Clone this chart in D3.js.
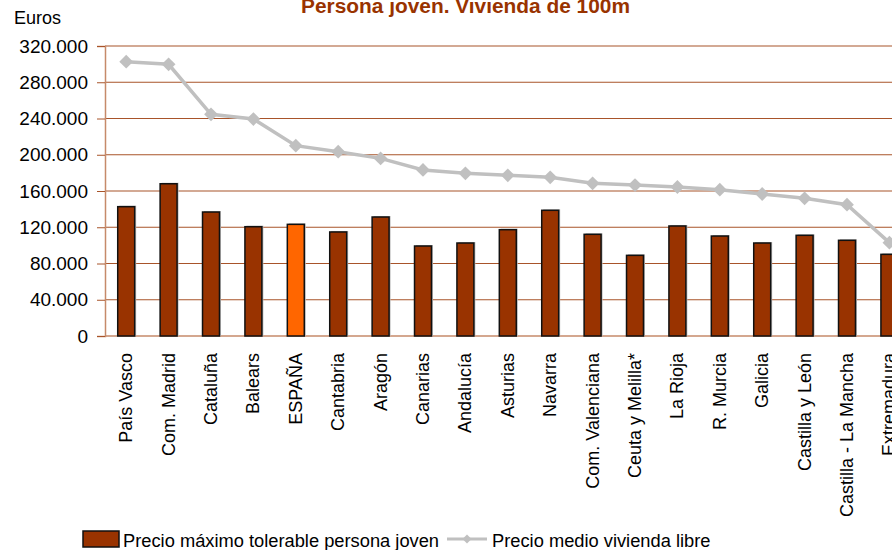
<!DOCTYPE html>
<html>
<head>
<meta charset="utf-8">
<script src="https://cdn.jsdelivr.net/npm/d3@7"></script>
<style>
  body { margin: 0; background: #fff; }
  svg { display: block; font-family: 'Liberation Sans', Arial, sans-serif; }
</style>
</head>
<body>
<div id="chart"></div>
<script>
const regions = ['País Vasco', 'Com. Madrid', 'Cataluña', 'Balears', 'ESPAÑA', 'Cantabria', 'Aragón',
  'Canarias', 'Andalucía', 'Asturias', 'Navarra', 'Com. Valenciana', 'Ceuta y Melilla*', 'La Rioja',
  'R. Murcia', 'Galicia', 'Castilla y León', 'Castilla - La Mancha', 'Extremadura'];

const precioTolerable = [142700, 168000, 136800, 120600, 123200, 114800, 131300,
  99300, 102600, 117300, 138700, 112200, 89000, 121400,
  110300, 102600, 111100, 105600, 90100];

const precioMedio = [302700, 299800, 244600, 239400, 210000, 203400, 196000,
  183200, 179500, 177300, 175100, 168500, 166600, 164400,
  161400, 156700, 151900, 144900, 103000];

const yTicks = [0, 40000, 80000, 120000, 160000, 200000, 240000, 280000, 320000];

const seriesNames = ['Precio máximo tolerable persona joven', 'Precio medio vivienda libre'];
const highlight = 'ESPAÑA';

const width = 892;
const height = 550;
const margin = { top: 46, left: 105, bottom: 214 };
const step = 42.4;

const fmt = d3.formatLocale({ decimal: ',', thousands: '.', grouping: [3], currency: ['', ''] }).format(',');

const x = d3.scaleBand()
  .domain(regions)
  .range([margin.left, margin.left + regions.length * step])
  .paddingInner(0.6)
  .paddingOuter(0.3);

const y = d3.scaleLinear()
  .domain([0, 320000])
  .range([height - margin.bottom, margin.top]);

const svg = d3.select('#chart').append('svg')
  .attr('width', width)
  .attr('height', height)
  .attr('viewBox', [0, 0, width, height]);

/* TITLE */

svg.append('text')
  .attr('x', 301)
  .attr('y', 13)
  .attr('font-size', 20)
  .attr('font-weight', 'bold')
  .attr('fill', '#993300')
  .attr('textLength', 329)
  .attr('lengthAdjust', 'spacingAndGlyphs')
  .text('Persona joven. Vivienda de 100m');

svg.append('text')
  .attr('x', 14)
  .attr('y', 24)
  .attr('font-size', 18)
  .attr('fill', '#000')
  .text('Euros');

/* GRID & AXES */

svg.append('g')
  .selectAll('line')
  .data(yTicks.filter((d) => d > 0))
  .join('line')
  .attr('x1', margin.left)
  .attr('x2', width)
  .attr('y1', (d) => y(d))
  .attr('y2', (d) => y(d))
  .attr('stroke', '#a8542a')
  .attr('stroke-width', 1.2);

const yAxis = (g) => g
  .attr('transform', `translate(${margin.left}, 0)`)
  .call(d3.axisLeft(y)
    .tickValues(yTicks)
    .tickFormat(fmt)
    .tickSize(8)
    .tickPadding(9))
  .call(() => g.select('.domain').attr('stroke', '#c68a6a').attr('stroke-width', 1.5))
  .call(() => g.selectAll('.tick line').attr('stroke', '#a8542a'))
  .call(() => g.selectAll('.tick text')
    .attr('font-size', 19)
    .attr('font-family', "'Liberation Sans', Arial, sans-serif")
    .attr('fill', '#000'));

svg.append('g').call(yAxis);

svg.append('line')
  .attr('x1', margin.left)
  .attr('x2', width)
  .attr('y1', y(0))
  .attr('y2', y(0))
  .attr('stroke', '#c68a6a')
  .attr('stroke-width', 1.5);

/* BARS */

const bars = svg.append('g');

bars.selectAll('rect.shadow')
  .data(regions)
  .join('rect')
  .attr('class', 'shadow')
  .attr('x', (d) => x(d) + 1.5)
  .attr('y', (d, i) => y(precioTolerable[i]) - 1)
  .attr('width', x.bandwidth())
  .attr('height', (d, i) => y(0) - y(precioTolerable[i]) + 1)
  .attr('fill', '#bbb');

bars.selectAll('rect.bar')
  .data(regions)
  .join('rect')
  .attr('class', 'bar')
  .attr('x', (d) => x(d))
  .attr('y', (d, i) => y(precioTolerable[i]))
  .attr('width', x.bandwidth())
  .attr('height', (d, i) => y(0) - y(precioTolerable[i]))
  .attr('fill', (d) => (d === highlight ? '#ff6600' : '#993300'))
  .attr('stroke', '#111')
  .attr('stroke-width', 1.5);

/* LINE */

const cx = (d) => x(d) + x.bandwidth() / 2;

const line = d3.line()
  .x((d) => cx(d))
  .y((d, i) => y(precioMedio[i]));

svg.append('path')
  .datum(regions)
  .attr('d', line)
  .attr('fill', 'none')
  .attr('stroke', '#c0c0c0')
  .attr('stroke-width', 3.5);

const diamond = d3.symbol().type(d3.symbolSquare).size(95);

svg.append('g')
  .selectAll('path')
  .data(regions)
  .join('path')
  .attr('d', diamond)
  .attr('transform', (d, i) => `translate(${cx(d)}, ${y(precioMedio[i])}) rotate(45)`)
  .attr('fill', '#c0c0c0');

/* X LABELS */

svg.append('g')
  .selectAll('text')
  .data(regions)
  .join('text')
  .attr('transform', (d) => `translate(${cx(d) + 6}, ${y(0) + 17}) rotate(-90)`)
  .attr('text-anchor', 'end')
  .attr('font-size', 18)
  .attr('fill', '#000')
  .text((d) => d);

/* LEGEND */

const legend = svg.append('g');

legend.append('rect')
  .attr('x', 83)
  .attr('y', 531)
  .attr('width', 36)
  .attr('height', 16)
  .attr('fill', '#993300')
  .attr('stroke', '#111')
  .attr('stroke-width', 1.5);

legend.append('text')
  .attr('x', 123)
  .attr('y', 547)
  .attr('font-size', 18.3)
  .text(seriesNames[0]);

legend.append('line')
  .attr('x1', 447)
  .attr('x2', 487)
  .attr('y1', 539)
  .attr('y2', 539)
  .attr('stroke', '#c0c0c0')
  .attr('stroke-width', 3);

legend.append('path')
  .attr('d', d3.symbol().type(d3.symbolSquare).size(40))
  .attr('transform', 'translate(467, 539) rotate(45)')
  .attr('fill', '#c0c0c0');

legend.append('text')
  .attr('x', 492)
  .attr('y', 547)
  .attr('font-size', 18.3)
  .text(seriesNames[1]);
</script>
</body>
</html>
